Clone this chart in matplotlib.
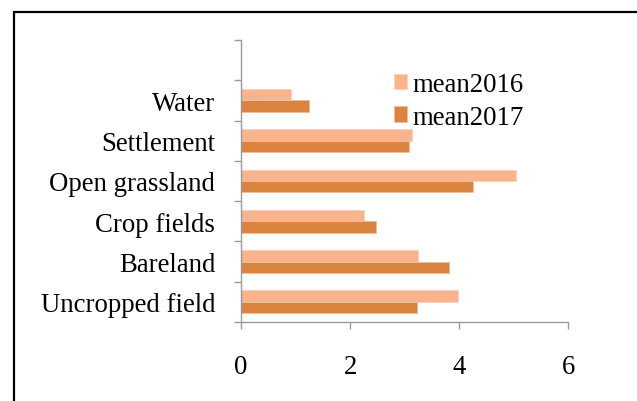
import matplotlib

matplotlib.use("Agg")
import matplotlib.pyplot as plt
import numpy as np
from matplotlib.patches import Rectangle
from matplotlib.ticker import FixedLocator

categorias = ["Uncropped field", "Bareland", "Crop fields", "Open grassland", "Settlement", "Water"]
mean2016 = [3.98, 3.25, 2.26, 5.04, 3.13, 0.92]
mean2017 = [3.23, 3.82, 2.48, 4.26, 3.08, 1.25]
xticks = [0, 2, 4, 6]

color_2016 = "#F9B38D"
color_2017 = "#DB843F"
gris = "#9A9A9A"

plt.rcParams["font.family"] = ["Liberation Serif", "DejaVu Serif"]
plt.rcParams["font.size"] = 19.3

fig = plt.figure(figsize=(6.37, 4.02), dpi=100)
ax = fig.add_axes([241 / 637, 1 - 323 / 402, (568.3 - 241) / 637, (323 - 41) / 402])

y = np.arange(len(categorias))
alto = 0.285
ax.barh(y + alto / 2, mean2016, height=alto, color=color_2016,
        edgecolor="#FCD3BB", linewidth=0.7, label="mean2016")
ax.barh(y - alto / 2, mean2017, height=alto, color=color_2017,
        edgecolor="#F0BE96", linewidth=0.7, label="mean2017")

# una fila vacia arriba, como en el grafico original
ax.set_ylim(-0.5, len(categorias) + 0.5)
ax.set_xlim(0, 6)

ax.set_yticks(y)
ax.set_yticklabels(categorias)
ax.yaxis.set_minor_locator(FixedLocator(np.arange(-0.5, len(categorias) + 1, 1.0)))
ax.tick_params(axis="y", which="major", length=0, pad=18.5)
ax.tick_params(axis="y", which="minor", length=5, width=1, color=gris, direction="out")

ax.set_xticks(xticks)
ax.set_xticklabels([str(t) for t in xticks])
ax.tick_params(axis="x", which="major", length=5, width=1, color=gris, direction="out", pad=18)

for lado in ["top", "right"]:
    ax.spines[lado].set_visible(False)
for lado in ["left", "bottom"]:
    ax.spines[lado].set_color(gris)
    ax.spines[lado].set_linewidth(1.0)

ax.legend(loc="upper left", bbox_to_anchor=(394 / 637, 1 - 73 / 402),
          bbox_transform=fig.transFigure, frameon=False, borderpad=0,
          borderaxespad=0, handlelength=0.5, handleheight=0.5,
          handletextpad=0.17, labelspacing=0.28)

# marco negro de la figura
marco = Rectangle((13.5 / 637, -0.1), 1.2, 1.1 - 13 / 402, transform=fig.transFigure,
                  fill=False, edgecolor="black", linewidth=1.6, clip_on=False)
fig.patches.append(marco)

fig.savefig("out.png", dpi=100)
